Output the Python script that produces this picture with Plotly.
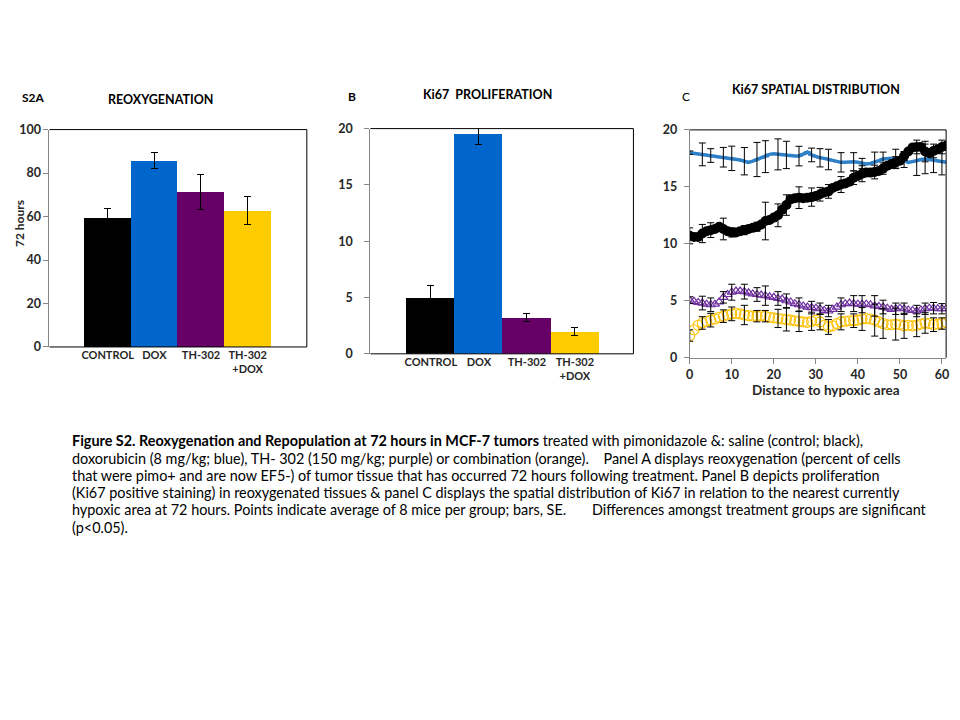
import plotly.graph_objects as go

# ---------------- data ----------------
categories = ["CONTROL", "DOX", "TH-302", "TH-302<br>+DOX"]
bar_colors = ["#000000", "#0066CC", "#660066", "#FFCC00"]

reoxy_vals = [59.3, 85.8, 71.3, 62.8]
reoxy_err = [4.3, 3.6, 8.2, 6.3]

ki67_vals = [5.0, 19.6, 3.2, 2.0]
ki67_err = [1.05, 1.0, 0.35, 0.35]

distance = list(range(0, 62))

control_spatial = [10.7, 10.6, 10.6, 10.9, 11.1, 11.2, 11.3, 11.5, 11.3, 11.1,
                   11.0, 11.0, 11.1, 11.2, 11.3, 11.4, 11.5, 11.7, 12.0, 12.1,
                   12.3, 12.5, 13.0, 13.4, 13.9, 14.0, 14.05, 14.0, 14.05, 14.1,
                   14.2, 14.35, 14.5, 14.6, 14.9, 15.05, 15.2, 15.3, 15.45, 15.8,
                   15.95, 16.15, 16.25, 16.25, 16.3, 16.4, 16.6, 16.85, 17.0, 17.15,
                   17.3, 17.7, 18.1, 18.45, 18.5, 18.5, 18.1, 17.95, 18.15, 18.3,
                   18.5, 18.6]
dox_spatial = [18.0, 17.95, 17.9, 17.85, 17.8, 17.75, 17.7, 17.65, 17.6, 17.55,
               17.5, 17.45, 17.35, 17.25, 17.15, 17.25, 17.4, 17.5, 17.65, 17.85,
               17.9, 17.85, 17.8, 17.8, 17.75, 17.7, 17.7, 17.85, 18.05, 17.8,
               17.65, 17.55, 17.5, 17.4, 17.3, 17.2, 17.15, 17.15, 17.2, 17.2,
               17.15, 17.05, 17.0, 17.05, 17.15, 17.3, 17.45, 17.5, 17.5, 17.45,
               17.4, 17.3, 17.15, 17.2, 17.3, 17.4, 17.45, 17.4, 17.35, 17.3,
               17.2, 17.15]
th302_spatial = [5.05, 4.95, 4.85, 4.8, 4.7, 4.65, 4.7, 4.9, 5.3, 5.55,
                 5.75, 5.85, 5.85, 5.8, 5.7, 5.6, 5.55, 5.5, 5.45, 5.35,
                 5.3, 5.2, 5.15, 5.0, 4.9, 4.75, 4.65, 4.55, 4.45, 4.4,
                 4.35, 4.3, 4.15, 4.1, 4.25, 4.45, 4.65, 4.75, 4.8, 4.75,
                 4.7, 4.7, 4.7, 4.65, 4.55, 4.5, 4.45, 4.35, 4.25, 4.3,
                 4.35, 4.3, 4.2, 4.15, 4.1, 4.2, 4.3, 4.35, 4.35, 4.3,
                 4.3, 4.3]
combo_spatial = [1.95, 2.45, 2.85, 3.05, 3.2, 3.3, 3.4, 3.55, 3.65, 3.75,
                 3.85, 3.9, 3.85, 3.75, 3.7, 3.65, 3.65, 3.7, 3.65, 3.55,
                 3.5, 3.45, 3.4, 3.35, 3.3, 3.25, 3.2, 3.15, 3.1, 3.2,
                 3.3, 3.15, 2.85, 2.7, 2.8, 3.0, 3.15, 3.2, 3.25, 3.25,
                 3.3, 3.4, 3.45, 3.4, 3.3, 3.15, 3.0, 2.9, 2.9, 2.95,
                 2.9, 2.8, 2.85, 2.8, 2.85, 2.95, 3.05, 3.0, 2.9, 2.95,
                 3.0, 3.1]

err_positions = [0, 3, 5, 8, 10, 13, 16, 18, 21, 23, 26, 29, 31, 33, 36, 39,
                 41, 44, 46, 49, 51, 54, 56, 58, 60]
control_se = [0.7, 0.8, 0.65, 0.95, 0.4, 0.4, 0.4, 1.65, 1.0, 0.9, 0.95, 0.8, 0.6,
              0.6, 0.7, 0.6, 0.7, 0.6, 0.5, 0.5, 0.4, 0.6, 0.9, 0.6, 0.6]
dox_se = [0.15, 1.0, 0.6, 0.86, 1.07, 1.2, 1.5, 1.4, 1.36, 1.2, 0.86, 0.6, 0.8,
          0.9, 0.85, 0.8, 0.45, 0.9, 0.6, 0.85, 0.6, 1.3, 1.3, 1.1, 1.15]
th302_se = [0.3, 0.6, 0.6, 0.5, 0.7, 0.65, 0.6, 0.85, 0.6, 0.6, 0.6, 0.55, 0.5,
            0.5, 0.6, 0.7, 0.75, 0.9, 0.6, 0.5, 0.5, 0.5, 0.5, 0.5, 0.45]
combo_se = [0.5, 0.55, 0.6, 0.55, 0.6, 0.85, 0.5, 0.5, 0.8, 1.0, 0.9, 0.8, 0.7,
            0.65, 0.7, 0.6, 1.0, 1.4, 1.3, 1.4, 1.1, 1.0, 0.9, 0.6, 0.5]

caption_lines = [
    "<b>Figure S2. Reoxygenation and Repopulation at 72 hours in MCF-7 tumors</b> treated with pimonidazole &: saline (control; black),",
    "doxorubicin (8 mg/kg; blue), TH- 302 (150 mg/kg; purple) or combination (orange).    Panel A displays reoxygenation (percent of cells",
    "that were pimo+ and are now EF5-) of tumor tissue that has occurred 72 hours following treatment. Panel B depicts proliferation",
    "(Ki67 positive staining) in reoxygenated tissues & panel C displays the spatial distribution of Ki67 in relation to the nearest currently",
    "hypoxic area at 72 hours. Points indicate average of 8 mice per group; bars, SE.       Differences amongst treatment groups are significant",
    "(p<0.05).",
]

# ---------------- figure ----------------
W, H = 960, 720
OFF = 8  # page body margin
FONT = "Lato"
TXT = "#262626"


def px_x(p):
    return (p - OFF) / W


def px_y(p):
    return 1 - (p - OFF) / H


fig = go.Figure()

cat_pos = list(range(len(categories)))

# Panel A
fig.add_trace(go.Bar(
    x=cat_pos, y=reoxy_vals, width=1.0, marker=dict(color=bar_colors, line=dict(width=0)),
    error_y=dict(type="data", array=reoxy_err, visible=True, color="#000000", thickness=1, width=3.5),
    xaxis="x", yaxis="y", showlegend=False))

# Panel B
fig.add_trace(go.Bar(
    x=cat_pos, y=ki67_vals, width=1.0, marker=dict(color=bar_colors, line=dict(width=0)),
    error_y=dict(type="data", array=ki67_err, visible=True, color="#000000", thickness=1, width=3.5),
    xaxis="x2", yaxis="y2", showlegend=False))

# Panel C series
fig.add_trace(go.Scatter(
    x=distance, y=dox_spatial, mode="lines+markers",
    line=dict(color="#2E80C8", width=3.5),
    marker=dict(symbol="line-ew-open", size=5, line=dict(color="#17375E", width=1.5)),
    xaxis="x3", yaxis="y3", showlegend=False))
fig.add_trace(go.Scatter(
    x=distance, y=control_spatial, mode="markers",
    marker=dict(symbol="circle", size=10, color="#000000"),
    xaxis="x3", yaxis="y3", showlegend=False))
fig.add_trace(go.Scatter(
    x=distance, y=th302_spatial, mode="markers",
    marker=dict(symbol="triangle-up-open", size=8, color="#7030A0", line=dict(width=1.2)),
    xaxis="x3", yaxis="y3", showlegend=False))
fig.add_trace(go.Scatter(
    x=distance, y=combo_spatial, mode="markers",
    marker=dict(symbol="circle-open", size=10, color="#FFC000", line=dict(width=1.1)),
    xaxis="x3", yaxis="y3", showlegend=False))

# Error bars for panel C (subset of points)
for series, se in [(dox_spatial, dox_se), (control_spatial, control_se),
                   (th302_spatial, th302_se), (combo_spatial, combo_se)]:
    fig.add_trace(go.Scatter(
        x=err_positions, y=[series[distance.index(p)] for p in err_positions],
        mode="markers", marker=dict(size=1, opacity=0),
        error_y=dict(type="data", array=se, visible=True, color="#000000", thickness=1, width=3.5),
        xaxis="x3", yaxis="y3", showlegend=False, hoverinfo="skip"))

tickfont = dict(family=FONT, size=12.5, color=TXT, weight="bold")
catfont = dict(family=FONT, size=11, color=TXT, weight="bold")

# Domains (pixel positions in the page)
dA_x = [px_x(45.7), px_x(305)]
dA_y = [px_y(346), px_y(124)]
dB_x = [px_x(369), px_x(634)]
dB_y = [px_y(353), px_y(123)]
dC_x = [px_x(690.7), px_x(949)]
dC_y = [px_y(357), px_y(124.3)]

axis_common = dict(showgrid=False, zeroline=False, fixedrange=True)


def ystyle(standoff):
    return dict(tickfont=tickfont, showline=True, linecolor="#868686", linewidth=1,
                ticks="outside", ticklen=5, tickcolor="#868686",
                ticklabelstandoff=standoff, **axis_common)


fig.update_layout(
    width=W, height=H,
    margin=dict(l=0, r=0, t=0, b=0),
    paper_bgcolor="white", plot_bgcolor="white",
    bargap=0,
    xaxis=dict(domain=dA_x, range=[-1.25, 4.27], tickvals=cat_pos, ticktext=categories,
               tickfont=catfont, showline=False, ticks="", **axis_common),
    yaxis=dict(domain=dA_y, range=[0, 100], tickvals=[0, 20, 40, 60, 80, 100], **ystyle(0)),
    xaxis2=dict(domain=dB_x, range=[-1.26, 4.22], tickvals=cat_pos, ticktext=categories,
                tickfont=catfont, showline=False, ticks="", anchor="y2", **axis_common),
    yaxis2=dict(domain=dB_y, range=[0, 20], tickvals=[0, 5, 10, 15, 20], anchor="x2", **ystyle(9)),
    xaxis3=dict(domain=dC_x, range=[0, 61], tickvals=[0, 10, 20, 30, 40, 50, 60],
                anchor="y3", **ystyle(0)),
    yaxis3=dict(domain=dC_y, range=[0, 20], tickvals=[0, 5, 10, 15, 20], anchor="x3", **ystyle(4)),
)

# Plot-area frames (top/right/bottom black)
for xa, ya in [("x", "y"), ("x2", "y2"), ("x3", "y3")]:
    fig.add_shape(type="line", xref=f"{xa} domain", yref=f"{ya} domain",
                  x0=0, x1=1, y0=1, y1=1, line=dict(color="#000000", width=1))
    fig.add_shape(type="line", xref=f"{xa} domain", yref=f"{ya} domain",
                  x0=1, x1=1, y0=0, y1=1, line=dict(color="#000000", width=1))
for xa, ya in [("x", "y"), ("x2", "y2")]:
    fig.add_shape(type="line", xref=f"{xa} domain", yref=f"{ya} domain",
                  x0=0, x1=1, y0=0, y1=0, line=dict(color="#000000", width=1))

# Panel labels, titles and axis titles
labels = [
    ("S2A", 30, 91, True, 12, 0),
    ("REOXYGENATION", 158, 93, True, 12.5, 0),
    ("B", 350, 90, True, 12, 0),
    ("Ki67  PROLIFERATION", 487, 88, True, 12.5, 0),
    ("C", 687, 90, False, 12, 0),
    ("Ki67 SPATIAL DISTRIBUTION", 818, 83, True, 12.5, 0),
    ("72 hours", 15.5, 220, True, 12, -90),
    ("Distance to hypoxic area", 828, 390, True, 13.5, 0),
]
for text, x, y, bold, size, ang in labels:
    fig.add_annotation(text=text, x=px_x(x), y=px_y(y), xref="paper", yref="paper",
                       xanchor="center", yanchor="middle", showarrow=False, textangle=ang,
                       borderpad=0,
                       font=dict(family=FONT, size=size, color="#000000" if ang == 0 and size < 13 else TXT,
                                 weight="bold" if bold else "normal"))

# Caption
for i, line in enumerate(caption_lines):
    fig.add_annotation(text=line, x=px_x(66), y=px_y(442 + 17.6 * i), xref="paper", yref="paper",
                       xanchor="left", yanchor="middle", showarrow=False, align="left",
                       font=dict(family=FONT, size=14.4, color="#000000"))

fig.write_html("out.html")
